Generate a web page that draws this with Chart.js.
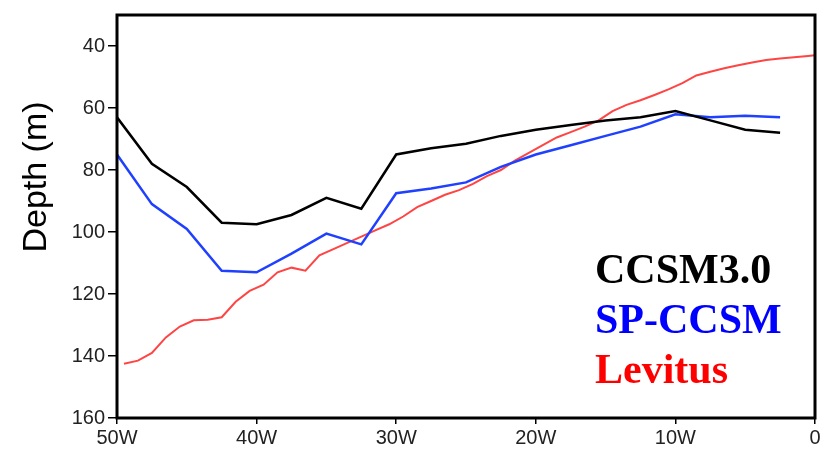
<!DOCTYPE html>
<html>
<head>
<meta charset="utf-8">
<script src="https://cdn.jsdelivr.net/npm/chart.js@4/dist/chart.umd.min.js"></script>
<style>
  html, body { margin: 0; padding: 0; background: #fff; }
  #wrap { width: 829px; height: 451px; }
</style>
</head>
<body>
<div id="wrap"><canvas id="chart" width="829" height="451"></canvas></div>
<script>
// longitude (negative = west), depth in metres
const lonModel = [-50, -47.5, -45, -42.5, -40, -37.5, -35, -32.5, -30, -27.5,
                  -25, -22.5, -20, -17.5, -15, -12.5, -10, -7.5, -5, -2.5];
const ccsm = [63, 78, 85.5, 97, 97.5, 94.5, 89, 92.5, 75, 73,
              71.5, 69, 67, 65.5, 64, 63, 61, 64, 67, 68];
const spccsm = [75, 91, 99, 112.5, 113, 107, 100.5, 104, 87.5, 86,
                84, 79, 75, 72, 69, 66, 62, 63, 62.5, 63];

const lonLevitus = [-49.5, -48.5, -47.5, -46.5, -45.5, -44.5, -43.5, -42.5, -41.5, -40.5,
                    -39.5, -38.5, -37.5, -36.5, -35.5, -34.5, -33.5, -32.5, -31.5, -30.5,
                    -29.5, -28.5, -27.5, -26.5, -25.5, -24.5, -23.5, -22.5, -21.5, -20.5,
                    -19.5, -18.5, -17.5, -16.5, -15.5, -14.5, -13.5, -12.5, -11.5, -10.5,
                    -9.5, -8.5, -7.5, -6.5, -5.5, -4.5, -3.5, -2.5, -1.5, -0.5, 0];
const levitus = [142.5, 141.5, 139, 134, 130.5, 128.5, 128.3, 127.5, 122.5, 119,
                 117, 113, 111.5, 112.5, 107.5, 105.5, 103.5, 101.5, 99.5, 97.5,
                 95, 92, 90, 88, 86.5, 84.5, 82, 80, 77, 74.5,
                 72, 69.5, 67.8, 66, 64, 61, 59, 57.5, 55.8, 54,
                 52, 49.5, 48.3, 47.2, 46.2, 45.3, 44.5, 44, 43.6, 43.2, 43];

const depthTicks = [40, 60, 80, 100, 120, 140, 160];
const legendNames = ["CCSM3.0", "SP-CCSM", "Levitus"];
const legendColors = ["#000000", "#0000ff", "#ff0000"];

function toPoints(xs, ys) {
  return xs.map((x, i) => ({ x: x, y: ys[i] }));
}

Chart.defaults.font.family = "'Liberation Sans', Arial, sans-serif";

const framePlugin = {
  id: "frame",
  afterDraw(chart) {
    const ctx = chart.ctx;
    const a = chart.chartArea;
    ctx.save();
    ctx.strokeStyle = "#000";
    ctx.lineWidth = 3;
    ctx.strokeRect(a.left, a.top, a.right - a.left, a.bottom - a.top);

    // y axis title
    ctx.translate(37, 177);
    ctx.rotate(-Math.PI / 2);
    ctx.fillStyle = "#000";
    ctx.font = "34px 'Liberation Sans', Arial, sans-serif";
    ctx.textAlign = "center";
    ctx.textBaseline = "middle";
    ctx.fillText("Depth (m)", 0, 0);
    ctx.restore();

    // legend text
    ctx.save();
    ctx.font = "bold 42px 'Liberation Serif', 'Times New Roman', serif";
    ctx.textBaseline = "alphabetic";
    ctx.textAlign = "left";
    legendNames.forEach((name, i) => {
      ctx.fillStyle = legendColors[i];
      ctx.fillText(name, 595, 283 + i * 50);
    });
    ctx.restore();
  }
};

new Chart(document.getElementById("chart"), {
  type: "scatter",
  data: {
    datasets: [
      { label: "CCSM3.0", data: toPoints(lonModel, ccsm), showLine: true,
        borderColor: "#000000", borderWidth: 2.5, pointRadius: 0 },
      { label: "SP-CCSM", data: toPoints(lonModel, spccsm), showLine: true,
        borderColor: "#2040ff", borderWidth: 2.5, pointRadius: 0 },
      { label: "Levitus", data: toPoints(lonLevitus, levitus), showLine: true,
        borderColor: "#ff4444", borderWidth: 2, pointRadius: 0 }
    ]
  },
  options: {
    responsive: false,
    animation: false,
    layout: { padding: { left: 0, top: 9, right: 14, bottom: 0 } },
    plugins: { legend: { display: false }, tooltip: { enabled: false } },
    scales: {
      x: {
        type: "linear",
        min: -50,
        max: 0,
        border: { display: false },
        grid: { drawOnChartArea: false, drawTicks: true, tickLength: 6, color: "#000", lineWidth: 1.5 },
        ticks: {
          stepSize: 10,
          padding: 2,
          color: "#222",
          font: { size: 20 },
          maxRotation: 0,
          callback: v => v === 0 ? "0" : (-v) + "W"
        },
        afterFit: scale => { scale.height = 33; }
      },
      y: {
        type: "linear",
        reverse: true,
        min: 30,
        max: 160,
        border: { display: false },
        grid: { drawOnChartArea: false, drawTicks: true, tickLength: 9, color: "#000", lineWidth: 1.5 },
        ticks: { padding: 3, color: "#222", font: { size: 20 } },
        afterBuildTicks: scale => { scale.ticks = depthTicks.map(v => ({ value: v })); },
        afterFit: scale => { scale.width = 117; }
      }
    }
  },
  plugins: [framePlugin]
});
</script>
</body>
</html>
